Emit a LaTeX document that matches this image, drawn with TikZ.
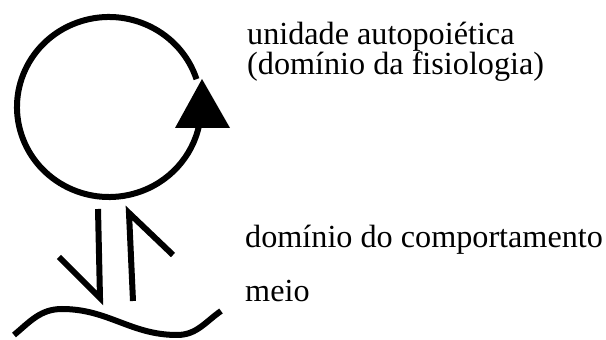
\documentclass[tikz,border=0pt]{standalone}
\usepackage{fontspec}
\setmainfont{Liberation Serif}
\begin{document}
\begin{tikzpicture}[x=1pt,y=1pt,
  stroke/.style={line width=6pt,black},
  label/.style={anchor=base west,inner sep=0pt,font=\fontsize{32.2}{30}\selectfont}]
\useasboundingbox (0,0) rectangle (606,340);
% autopoietic unit: circle with arrowhead
\coordinate (c) at (109,233);
\draw[stroke] (c) ++(18:92 and 90) arc[start angle=18,end angle=348,x radius=92,y radius=90];
\coordinate (t1) at (175,212);
\coordinate (t2) at (230,212);
\coordinate (t3) at (202,261);
\fill (t1) -- (t2) -- (t3) -- cycle;
% half arrows
\coordinate (d1) at (59,83);
\coordinate (d2) at (100,42);
\coordinate (d3) at (98,131);
\draw[stroke,miter limit=10] (d1) -- (d2) -- (d3);
\coordinate (u1) at (133,39);
\coordinate (u2) at (129,127);
\coordinate (u3) at (173,85);
\draw[stroke,miter limit=10] (u1) -- (u2) -- (u3);
% medium wave
\coordinate (w1) at (14,5);
\coordinate (w2) at (62,31);
\coordinate (w3) at (177,5);
\coordinate (w4) at (221,29);
\draw[stroke] (w1) to[out=40,in=180] (w2) to[out=0,in=180] (w3) to[out=0,in=215] (w4);
% labels
\node[label] (l1) at (247,295) {unidade autopoiética};
\node[label] (l2) at (247,265) {(domínio da fisiologia)};
\node[label] (l3) at (245,92) {domínio do comportamento};
\node[label] (l4) at (245,38) {meio};
\end{tikzpicture}
\end{document}
